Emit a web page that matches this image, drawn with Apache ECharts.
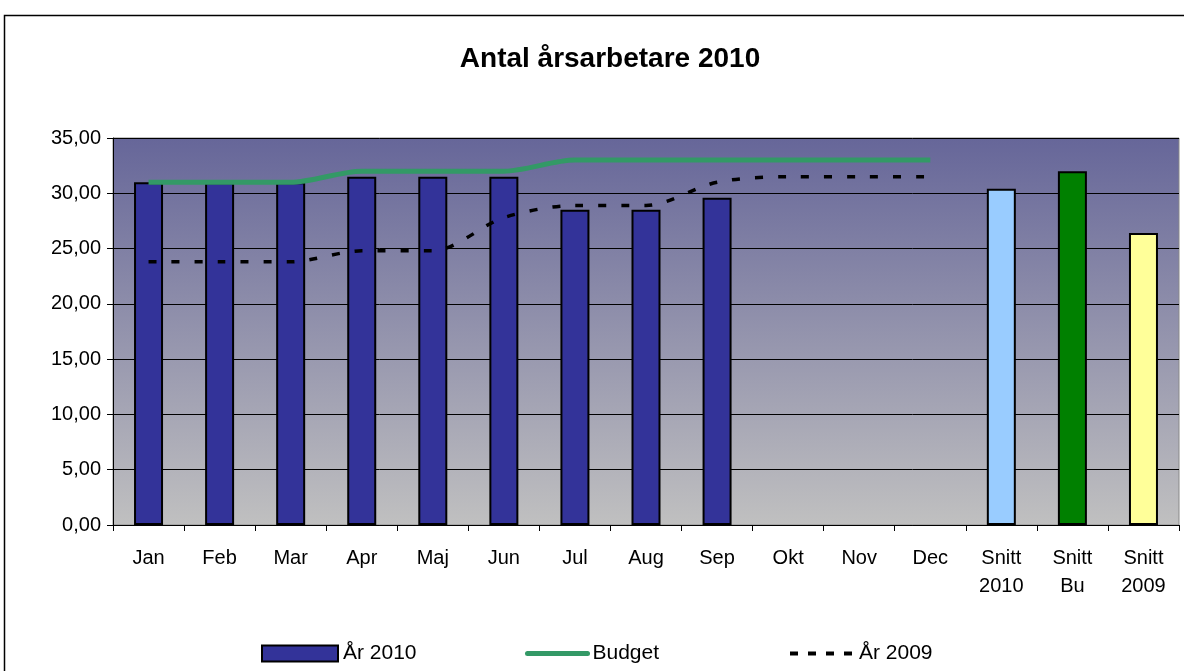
<!DOCTYPE html>
<html>
<head>
<meta charset="utf-8">
<script src="https://cdn.jsdelivr.net/npm/echarts@6/dist/echarts.min.js"></script>
<style>
    html, body { margin: 0; padding: 0; background: #fff; }
    #chart { width: 1184px; height: 671px; }
</style>
</head>
<body>
<div id="chart"></div>
<script>
    // kategorier
    const months = ['Jan', 'Feb', 'Mar', 'Apr', 'Maj', 'Jun', 'Jul', 'Aug', 'Sep', 'Okt', 'Nov', 'Dec'];
    const snittLabels = ['Snitt\n2010', 'Snitt\nBu', 'Snitt\n2009'];
    const categories = months.concat(snittLabels);

    // värden
    const ar2010 = [31.0, 31.0, 31.0, 31.5, 31.5, 31.5, 28.5, 28.5, 29.6, null, null, null];
    const snitt = [30.4, 32.0, 26.4];
    const budget = [31, 31, 31, 32, 32, 32, 33, 33, 33, 33, 33, 33];
    const ar2009 = [23.8, 23.8, 23.8, 24.8, 24.8, 27.8, 28.9, 28.9, 31.0, 31.5, 31.5, 31.5];
    const yTicks = { min: 0, max: 35, interval: 5 };

    const snittColors = ['#99ccff', '#008000', '#ffff99'];
    const font = 'Liberation Sans, Arial, sans-serif';

    const barData = ar2010.concat(snitt.map((v, i) => ({
        value: v,
        itemStyle: { color: snittColors[i] }
    })));

    const legendText = { fontFamily: font, fontSize: 21, color: '#000' };

    const chart = echarts.init(document.getElementById('chart'));
    chart.setOption({
        animation: false,
        backgroundColor: '#fff',
        title: {
            text: 'Antal årsarbetare 2010',
            left: 605,
            textAlign: 'center',
            top: 40,
            textStyle: { fontFamily: font, fontSize: 28, fontWeight: 'bold', color: '#000' }
        },
        graphic: [{
            type: 'rect',
            shape: { x: 4.5, y: 15.5, width: 1220, height: 700 },
            style: { fill: 'none', stroke: '#000', lineWidth: 1.5 },
            silent: true
        }],
        legend: [
            {
                data: [{ name: 'År 2010', icon: 'rect' }],
                left: 256, top: 638,
                itemWidth: 76, itemHeight: 16, itemGap: 0,
                itemStyle: { borderColor: '#000', borderWidth: 2 },
                textStyle: legendText
            },
            {
                data: ['Budget'],
                left: 520, top: 638,
                itemWidth: 60, itemHeight: 16,
                itemStyle: { opacity: 0 },
                lineStyle: { width: 5, color: '#339966', cap: 'round' },
                textStyle: legendText
            },
            {
                data: ['År 2009'],
                left: 783, top: 638,
                itemWidth: 64, itemHeight: 16,
                itemStyle: { opacity: 0 },
                lineStyle: { width: 4, color: '#000', type: [8, 10] },
                textStyle: legendText
            }
        ],
        grid: {
            left: 113, right: 5, top: 138, bottom: 146,
            show: true,
            borderWidth: 1,
            borderColor: '#888',
            backgroundColor: {
                type: 'linear', x: 0, y: 0, x2: 0, y2: 1,
                colorStops: [
                    { offset: 0, color: '#666699' },
                    { offset: 1, color: '#c0c0c0' }
                ]
            }
        },
        xAxis: {
            type: 'category',
            data: categories,
            axisLine: { lineStyle: { color: '#000', width: 1 } },
            axisTick: { show: true, length: 6, lineStyle: { color: '#000' } },
            axisLabel: {
                interval: 0,
                margin: 19,
                color: '#000',
                fontFamily: font,
                fontSize: 20,
                lineHeight: 28
            }
        },
        yAxis: {
            type: 'value',
            min: yTicks.min,
            max: yTicks.max,
            interval: yTicks.interval,
            axisLine: { show: true, lineStyle: { color: '#000', width: 1 } },
            axisTick: { show: true, length: 6, lineStyle: { color: '#000' } },
            splitLine: { show: true, lineStyle: { color: '#000', width: 1 } },
            axisLabel: {
                margin: 12,
                color: '#000',
                fontFamily: font,
                fontSize: 20,
                formatter: v => v.toFixed(2).replace('.', ',')
            }
        },
        series: [
            {
                name: 'År 2010',
                type: 'bar',
                data: barData,
                barWidth: 29,
                itemStyle: { color: '#333399', borderColor: '#000', borderWidth: 2 }
            },
            {
                name: 'Budget',
                type: 'line',
                data: budget,
                smooth: 0.3,
                symbol: 'none',
                lineStyle: { color: '#339966', width: 5 },
                itemStyle: { color: '#339966' },
                z: 3
            },
            {
                name: 'År 2009',
                type: 'line',
                data: ar2009,
                smooth: 0.3,
                symbol: 'none',
                lineStyle: { color: '#000', width: 3.5, type: [8, 15] },
                itemStyle: { color: '#000' },
                z: 4
            }
        ]
    });
</script>
</body>
</html>
